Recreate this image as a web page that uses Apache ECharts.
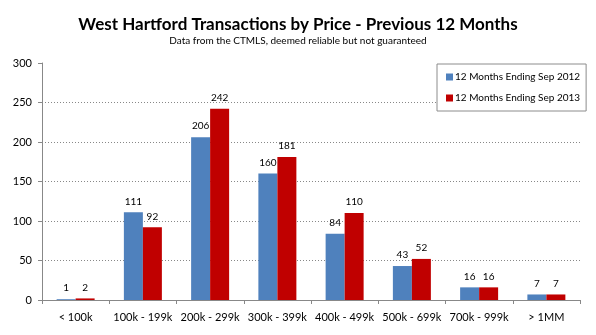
<!DOCTYPE html>
<html>
<head>
<meta charset="utf-8">
<script src="https://cdn.jsdelivr.net/npm/echarts@6/dist/echarts.min.js"></script>
<style>
  html, body { margin: 0; padding: 0; background: #fff; }
  #chart { width: 596px; height: 335px; }
</style>
</head>
<body>
<div id="chart"></div>
<script>
// Price bands and transaction counts for the two 12-month periods
const priceBands = ['< 100k', '100k - 199k', '200k - 299k', '300k - 399k', '400k - 499k', '500k - 699k', '700k - 999k', '> 1MM'];
const sales2012 = [1, 111, 206, 160, 84, 43, 16, 7];
const sales2013 = [2, 92, 242, 181, 110, 52, 16, 7];
const seriesNames = ['12 Months Ending Sep 2012', '12 Months Ending Sep 2013'];
const yTicks = { min: 0, max: 300, interval: 50 };

const FONT = 'Lato, "DejaVu Sans", sans-serif';

const chart = echarts.init(document.getElementById('chart'), null, { renderer: 'canvas' });

const barLabel = {
  show: true,
  position: 'top',
  distance: 6,
  color: '#000',
  fontFamily: FONT,
  fontSize: 10
};

chart.setOption({
  animation: false,
  backgroundColor: '#fff',
  title: {
    text: 'West Hartford Transactions by Price - Previous 12 Months',
    subtext: 'Data from the CTMLS, deemed reliable but not guaranteed',
    left: 'center',
    top: 11,
    itemGap: 3,
    textStyle: { fontFamily: FONT, fontSize: 17, fontWeight: 'bold', color: '#000' },
    subtextStyle: { fontFamily: FONT, fontSize: 10, color: '#000' }
  },
  legend: {
    orient: 'vertical',
    left: 437,
    top: 64,
    padding: [8, 6, 8, 9],
    itemGap: 11,
    itemWidth: 7,
    itemHeight: 7,
    icon: 'rect',
    borderColor: '#8c8c8c',
    borderWidth: 1,
    backgroundColor: '#fff',
    textStyle: { fontFamily: FONT, fontSize: 10, color: '#000', padding: [0, 0, 0, -3] },
    data: seriesNames
  },
  grid: { left: 42, right: 16, top: 63, bottom: 35, containLabel: false },
  xAxis: {
    type: 'category',
    data: priceBands,
    axisLine: { lineStyle: { color: '#888', width: 1 } },
    axisTick: { show: true, interval: 0, length: 4, lineStyle: { color: '#888' } },
    axisLabel: { interval: 0, margin: 12, color: '#000', fontFamily: FONT, fontSize: 11 }
  },
  yAxis: {
    type: 'value',
    min: yTicks.min,
    max: yTicks.max,
    interval: yTicks.interval,
    axisLine: { show: true, lineStyle: { color: '#888', width: 1 } },
    axisTick: { show: true, length: 4, lineStyle: { color: '#888' } },
    axisLabel: { margin: 10, color: '#000', fontFamily: FONT, fontSize: 11 },
    splitLine: {
      show: true,
      showMinLine: false,
      showMaxLine: false,
      lineStyle: { color: '#888', type: [1, 2], width: 1 }
    }
  },
  series: [
    {
      name: seriesNames[0],
      type: 'bar',
      data: sales2012,
      barWidth: 19,
      barGap: '0%',
      itemStyle: { color: '#4F81BD' },
      label: barLabel
    },
    {
      name: seriesNames[1],
      type: 'bar',
      data: sales2013,
      barWidth: 19,
      barGap: '0%',
      itemStyle: { color: '#C00000' },
      label: barLabel
    }
  ]
});
</script>
</body>
</html>
